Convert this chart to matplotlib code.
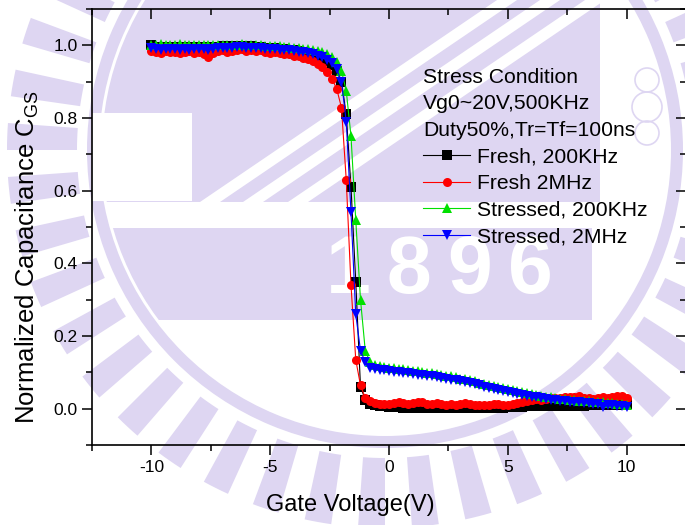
import numpy as np
import matplotlib
matplotlib.use("Agg")
import matplotlib.pyplot as plt
from matplotlib.patches import Wedge, Polygon, Rectangle, Circle

plt.rcParams["font.family"] = ["Liberation Sans", "DejaVu Sans"]
plt.rcParams["mathtext.fontset"] = "custom"
plt.rcParams["mathtext.rm"] = "Liberation Sans"
plt.rcParams["mathtext.it"] = "Liberation Sans"
plt.rcParams["mathtext.default"] = "regular"

# Gate voltage sweep (V), 0.2 V step
gate_voltage = np.round(np.arange(-10.0, 10.0001, 0.2), 1)

fresh_200k = [
    1.000, 0.995, 0.993, 0.996, 0.994, 0.995, 0.993, 0.996, 0.994, 0.995,
    0.993, 0.995, 0.994, 0.996, 0.995, 0.997, 0.996, 0.998, 0.997, 0.999,
    0.998, 0.997, 0.996, 0.995, 0.994, 0.993, 0.992, 0.990, 0.989, 0.987,
    0.986, 0.984, 0.982, 0.979, 0.976, 0.972, 0.966, 0.958, 0.946, 0.928,
    0.900, 0.810, 0.610, 0.350, 0.060, 0.025, 0.014, 0.010, 0.008, 0.006,
    0.005,
    0.004, 0.005, 0.003, 0.004, 0.003, 0.002, 0.003, 0.002, 0.001, 0.002,
    0.002, 0.001, 0.002, 0.001, 0.002, 0.003, 0.002, 0.001, 0.002, 0.003,
    0.002, 0.003, 0.004, 0.003, 0.005, 0.004, 0.006, 0.005, 0.006, 0.007,
    0.006, 0.007, 0.006, 0.008, 0.007, 0.008, 0.007, 0.009, 0.008, 0.009,
    0.008, 0.010, 0.009, 0.010, 0.011, 0.010, 0.012, 0.011, 0.013, 0.012,
]

fresh_2m = [
    0.985, 0.982, 0.980, 0.984, 0.981, 0.983, 0.979, 0.982, 0.984, 0.980,
    0.983, 0.977, 0.968, 0.978, 0.984, 0.986, 0.982, 0.985, 0.988, 0.990,
    0.985, 0.987, 0.984, 0.986, 0.983, 0.980, 0.982, 0.979, 0.977, 0.975,
    0.972, 0.970, 0.966, 0.962, 0.957, 0.950, 0.940, 0.927, 0.908, 0.880,
    0.828, 0.630, 0.340, 0.135, 0.064, 0.030, 0.020, 0.015, 0.013, 0.012,
    0.014,
    0.016, 0.018, 0.015, 0.013, 0.016, 0.019, 0.017, 0.014, 0.012, 0.015,
    0.013, 0.011, 0.012, 0.010, 0.013, 0.015, 0.012, 0.010, 0.011, 0.009,
    0.010, 0.012, 0.014, 0.011, 0.009, 0.013, 0.016, 0.019, 0.022, 0.024,
    0.026, 0.025, 0.027, 0.029, 0.028, 0.030, 0.031, 0.033, 0.032, 0.034,
    0.030, 0.028, 0.027, 0.029, 0.031, 0.030, 0.033, 0.036, 0.034, 0.030,
]

stressed_200k = [
    1.002, 1.000, 1.003, 1.001, 1.002, 1.000, 1.003, 1.001, 1.002, 1.000,
    1.001, 1.002, 1.000, 1.001, 1.002, 1.001, 1.000, 1.002, 1.001, 1.003,
    1.002, 1.001, 1.000, 1.000, 0.999, 0.998, 0.998, 0.997, 0.996, 0.995,
    0.994, 0.993, 0.991, 0.990, 0.988, 0.985, 0.981, 0.976, 0.968, 0.955,
    0.930, 0.875, 0.750, 0.520, 0.300, 0.160, 0.128, 0.120, 0.118, 0.115,
    0.113,
    0.111, 0.109, 0.108, 0.106, 0.104, 0.103, 0.101, 0.099, 0.097, 0.095,
    0.093, 0.091, 0.089, 0.086, 0.083, 0.081, 0.078, 0.075, 0.072, 0.069,
    0.066, 0.063, 0.060, 0.057, 0.054, 0.051, 0.048, 0.045, 0.042, 0.039,
    0.037, 0.035, 0.033, 0.031, 0.029, 0.027, 0.026, 0.024, 0.023, 0.022,
    0.021, 0.020, 0.019, 0.018, 0.017, 0.016, 0.015, 0.014, 0.012, 0.010,
]

stressed_2m = [
    0.992, 0.990, 0.988, 0.991, 0.989, 0.990, 0.987, 0.990, 0.988, 0.991,
    0.989, 0.990, 0.988, 0.991, 0.993, 0.992, 0.994, 0.993, 0.995, 0.996,
    0.994, 0.993, 0.992, 0.993, 0.991, 0.990, 0.989, 0.988, 0.987, 0.986,
    0.985, 0.983, 0.981, 0.979, 0.977, 0.972, 0.967, 0.960, 0.951, 0.935,
    0.900, 0.790, 0.540, 0.260, 0.160, 0.128, 0.112, 0.109, 0.107, 0.106,
    0.104,
    0.102, 0.101, 0.099, 0.097, 0.096, 0.094, 0.092, 0.090, 0.089, 0.086,
    0.084, 0.082, 0.080, 0.078, 0.075, 0.073, 0.070, 0.067, 0.064, 0.061,
    0.058, 0.055, 0.052, 0.049, 0.047, 0.044, 0.041, 0.038, 0.036, 0.033,
    0.031, 0.029, 0.027, 0.025, 0.024, 0.022, 0.021, 0.019, 0.018, 0.017,
    0.016, 0.015, 0.013, 0.012, 0.004, 0.011, 0.010, 0.008, 0.007, 0.005,
]

series_labels = ["Fresh, 200KHz", "Fresh 2MHz", "Stressed, 200KHz", "Stressed, 2MHz"]
series_colors = ["#000000", "#FF0000", "#00E000", "#0000FF"]
series_markers = ["s", "o", "^", "v"]
stress_condition = ["Stress Condition", "Vg0~20V,500KHz", "Duty50%,Tr=Tf=100ns"]

x_ticks = [-10, -5, 0, 5, 10]
y_ticks = [0.0, 0.2, 0.4, 0.6, 0.8, 1.0]

W, H = 685, 525
fig = plt.figure(figsize=(W / 100, H / 100), dpi=100)

# ---- faint emblem behind the plot (drawn in pixel coordinates) ----
lav = "#DED6F2"
bg = fig.add_axes([0, 0, 1, 1], zorder=0)
bg.set_xlim(0, W)
bg.set_ylim(H, 0)
bg.axis("off")
cx, cy = 385, 150
n_teeth = 44
pitch = 360.0 / n_teeth
for k in range(n_teeth):
    a0 = k * pitch
    bg.add_patch(Wedge((cx, cy), 378, a0, a0 + pitch * 0.5, width=70,
                       color=lav, lw=0))
bg.add_patch(Wedge((cx, cy), 298, 0, 360, width=12, color=lav, lw=0))
inner = Circle((cx, cy), 283, transform=bg.transData)
upper = Rectangle((0, 0), 600, 202, color=lav, lw=0)
bg.add_patch(upper)
upper.set_clip_path(inner)
band = Rectangle((0, 228), 592, 92, color=lav, lw=0)
bg.add_patch(band)
band.set_clip_path(inner)
for x0 in (200, 243, 288):
    s = 0.68
    stripe = Polygon([(x0, 202), (x0 + 20, 202), (x0 + 20 + 202 / s, 0),
                      (x0 + 202 / s, 0)], closed=True, color="white", lw=0)
    bg.add_patch(stripe)
    stripe.set_clip_path(inner)
bg.add_patch(Rectangle((92, 113), 100, 88, color="white", lw=0))
for digit, px in zip("1896", (348, 409, 470, 530)):
    bg.text(px, 272, digit, color="white", fontsize=58, fontweight="bold",
            ha="center", va="center")
for (px, py, r) in [(647, 80, 12), (647, 107, 15), (647, 133, 12)]:
    bg.add_patch(Circle((px, py), r, fill=False, ec=lav, lw=1.2))

# ---- main axes ----
left, bottom = 92 / W, (H - 445) / H
ax = fig.add_axes([left, bottom, 1.0015 - left, (H - 9) / H - bottom], zorder=1)
ax.patch.set_alpha(0)

series = [fresh_200k, fresh_2m, stressed_200k, stressed_2m]
for vals, lab, col, mk in zip(series, series_labels, series_colors, series_markers):
    ax.plot(gate_voltage, vals, color=col, lw=0.8, marker=mk,
            ms=7 if mk in "^v" else 6.5, mec=col, mfc=col, mew=0, label=lab)

ax.set_xlim(-12.5, 12.5)
ax.set_ylim(-0.1, 1.1)
ax.set_xticks(x_ticks)
ax.set_xticks([-12.5, -7.5, -2.5, 2.5, 7.5, 12.5], minor=True)
ax.set_yticks(y_ticks)
ax.set_yticks([-0.1, 0.1, 0.3, 0.5, 0.7, 0.9, 1.1], minor=True)
ax.set_xticklabels([str(v) for v in x_ticks])
ax.set_yticklabels([f"{v:.1f}" for v in y_ticks])
ax.tick_params(which="both", direction="out", width=1.1, labelsize=12.5, pad=3.5)
ax.tick_params(which="major", length=7)
ax.tick_params(which="minor", length=4.5)
ax.tick_params(which="both", top=True, right=True)
for spine in ax.spines.values():
    spine.set_linewidth(1.2)
# inward ticks on the mirrored top/right edges
for t in ax.xaxis.get_major_ticks() + ax.xaxis.get_minor_ticks():
    t.tick2line.set_marker(matplotlib.lines.TICKDOWN)
for t in ax.yaxis.get_major_ticks() + ax.yaxis.get_minor_ticks():
    t.tick2line.set_marker(matplotlib.lines.TICKLEFT)

ax.set_xlabel("Gate Voltage(V)", fontsize=17)
ax.xaxis.set_label_coords((350 - 92) / 594, (445 - 505) / 436)
ax.xaxis.label.set_verticalalignment("center")
ax.set_ylabel("Normalized Capacitance C$_{GS}$", fontsize=18.5)
ax.yaxis.set_label_coords((27 - 92) / 594, (445 - 257) / 436)
ax.yaxis.label.set_verticalalignment("center")

for i, line in enumerate(stress_condition):
    fig.text(423 / W, 1 - (77 + 26.7 * i) / H, line, fontsize=15.2,
             ha="left", va="center")

ax.legend(loc="center left", bbox_to_anchor=(423 / W, 1 - 197 / H),
          bbox_transform=fig.transFigure, frameon=False, fontsize=15.2,
          numpoints=1, handlelength=2.23, handletextpad=0.33, labelspacing=0.36,
          borderpad=0, borderaxespad=0)

fig.savefig("out.png", dpi=100)
